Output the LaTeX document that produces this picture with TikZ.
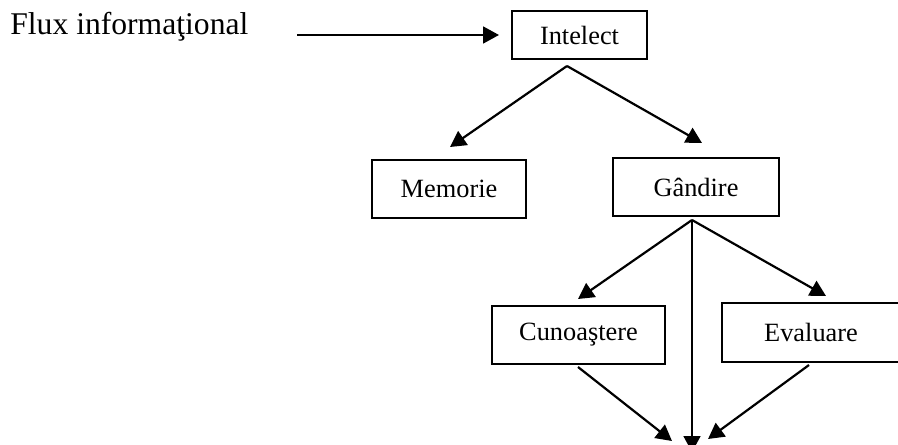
\documentclass[tikz,border=0pt]{standalone}
\usepackage{fontspec}
\setmainfont{Liberation Serif}
\usetikzlibrary{arrows.meta}
\begin{document}
\begin{tikzpicture}[x=0.02cm,y=-0.02cm,
  box/.style={draw,line width=0.95pt,inner sep=0pt,font=\fontsize{15}{17}\selectfont},
  arr/.style={line width=1.25pt,-{Triangle[length=9pt,width=9.5pt]}}]
\useasboundingbox (0,0) rectangle (898,445);
\node[anchor=base west,inner sep=0pt,font=\fontsize{18}{20}\selectfont] (flux) at (10,35) {Flux informaţional};
\node[box,minimum width=135*0.02cm,minimum height=48*0.02cm] (int) at (579.5,35) {Intelect};
\node[box,minimum width=154*0.02cm,minimum height=58*0.02cm] (mem) at (449,189) {Memorie};
\node[box,minimum width=166*0.02cm,minimum height=58*0.02cm] (gan) at (696,187) {Gândire};
\node[box,minimum width=173*0.02cm,minimum height=58*0.02cm] (cun) at (578.5,335) {Cunoaştere};
\node[box,minimum width=178*0.02cm,minimum height=59*0.02cm] (eva) at (811,332.5) {Evaluare};
\coordinate (fs) at (297,35);
\coordinate (fe) at (499,35);
\coordinate (i0) at (567,66);
\coordinate (mt) at (450,147);
\coordinate (gt) at (702,143);
\coordinate (g0) at (692,220);
\coordinate (ct) at (578,299);
\coordinate (et) at (826,296);
\coordinate (c0) at (578,367);
\coordinate (e0) at (809,365);
\coordinate (bl) at (672,441);
\coordinate (br) at (708,439);
\coordinate (bm) at (692,452);
\draw[arr] (fs) -- (fe);
\draw[arr] (i0) -- (mt);
\draw[arr] (i0) -- (gt);
\draw[arr] (g0) -- (ct);
\draw[arr] (g0) -- (et);
\draw[arr] (g0) -- (bm);
\draw[arr] (c0) -- (bl);
\draw[arr] (e0) -- (br);
\end{tikzpicture}
\end{document}
